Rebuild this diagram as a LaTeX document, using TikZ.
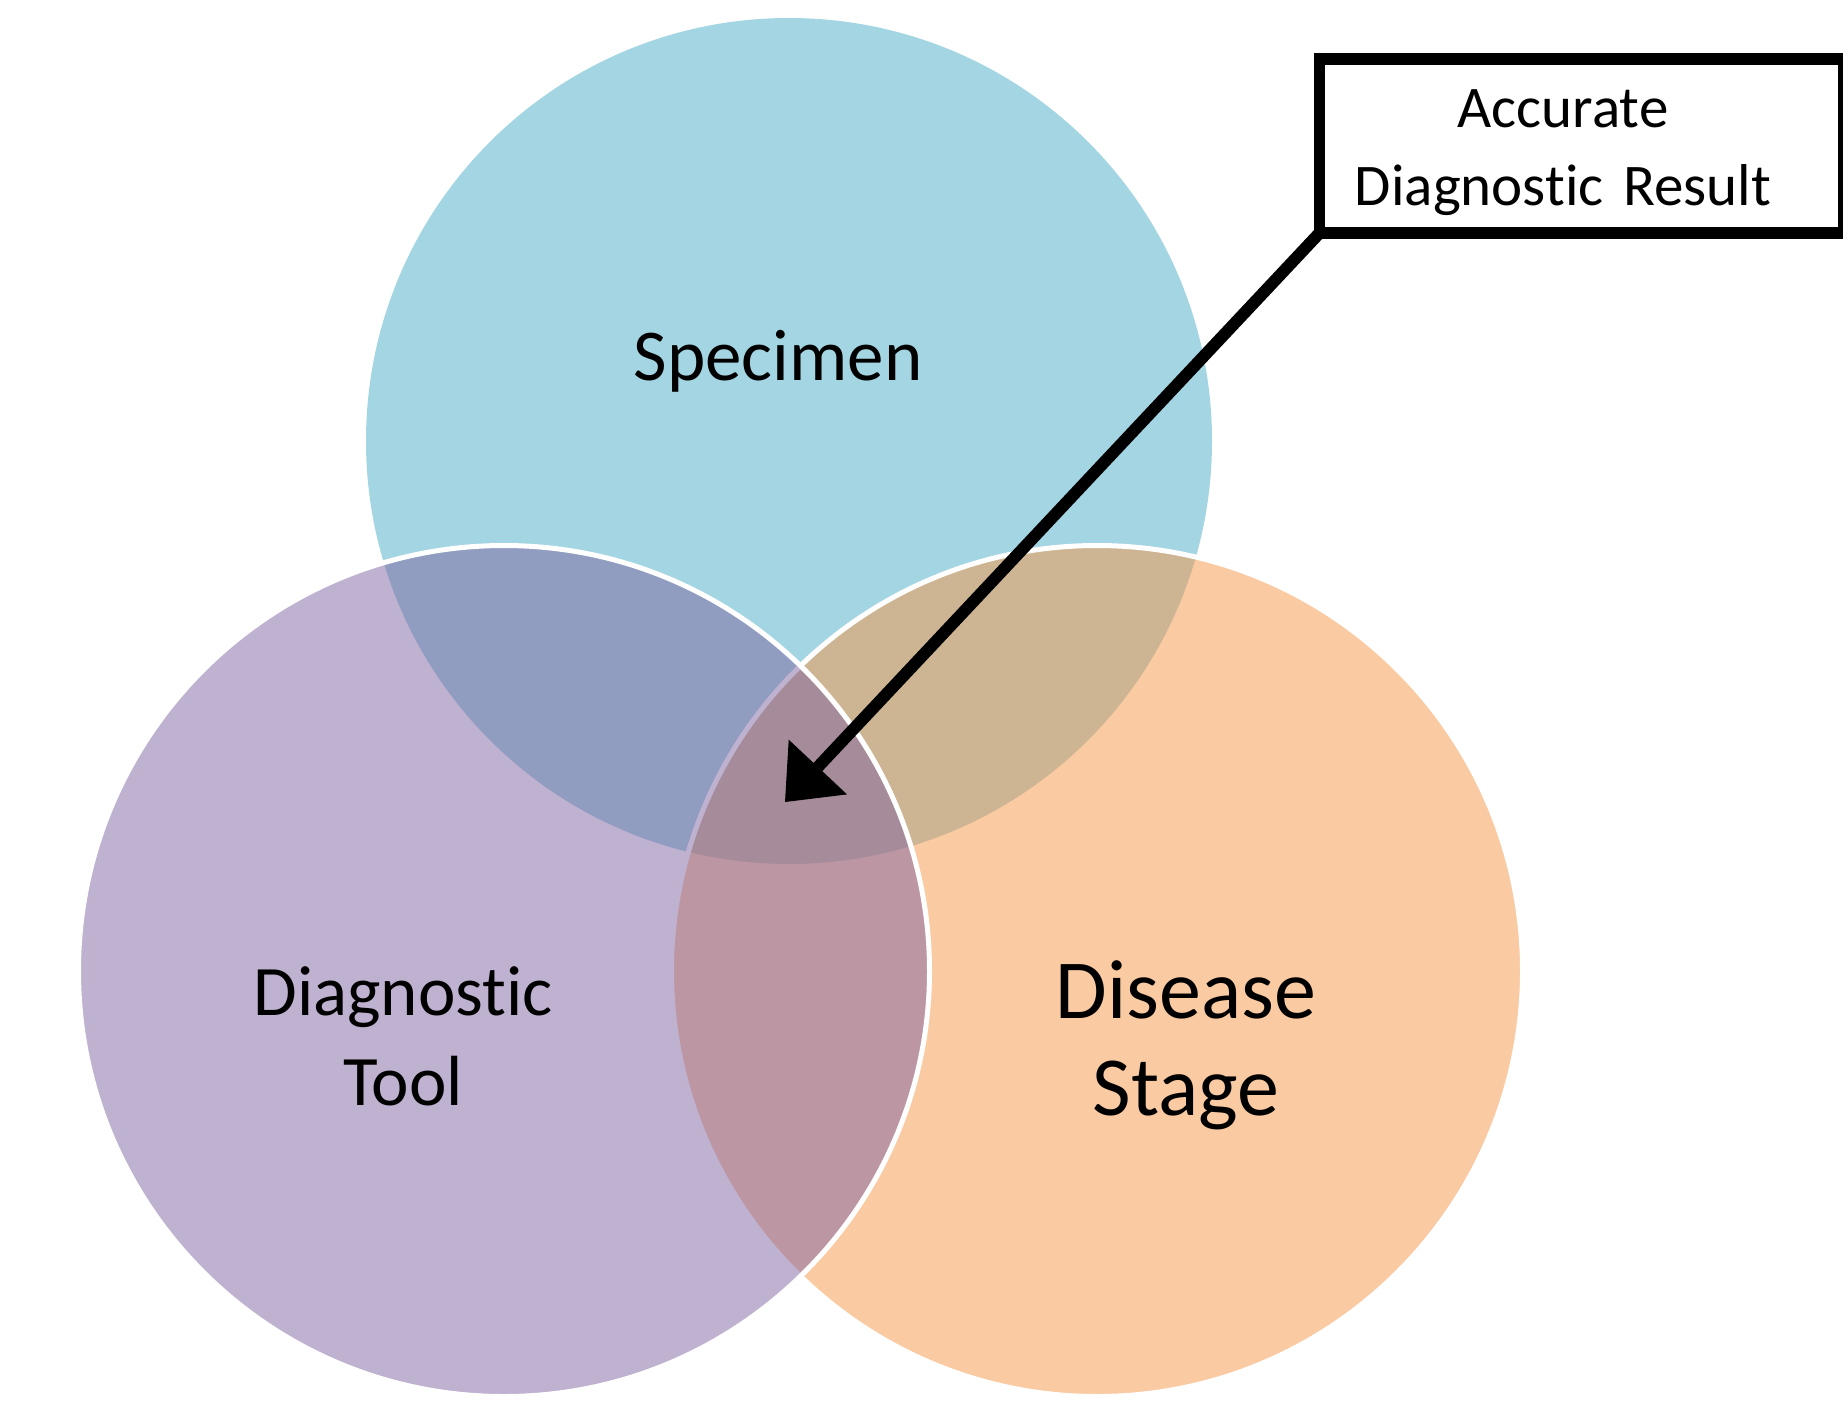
\documentclass[tikz,border=0pt]{standalone}
\usepackage{fontspec}
\setmainfont{Carlito}[Ligatures={NoCommon,NoRare,NoDiscretionary}]
\usetikzlibrary{arrows.meta}
\definecolor{vblue}{HTML}{4BACC6}
\definecolor{vpurple}{HTML}{8064A2}
\definecolor{vorange}{HTML}{F79646}
\begin{document}
\begin{tikzpicture}[x=1pt,y=-1pt,
  vennset/.style={fill opacity=0.5},
  vennrim/.style={draw=white, line width=5},
  lbl/.style={text=black, inner sep=0, outer sep=0, align=center, anchor=base},
  resbox/.style={draw=black, fill=white, line width=11.5, minimum width=524, minimum height=174, inner sep=0, outer sep=0},
  callout/.style={draw=black, line width=12, -{Triangle[length=48pt,width=80pt,line width=0pt]}}]
\clip (0,0) rectangle (1843,1413);
\fill[white] (0,0) rectangle (1843,1413);
% Venn sets
\path[vennset, fill=vblue] (789,441) circle[radius=423];
\path[vennset, fill=vorange, vennrim] (1097,971) circle[radius=425.5];
\path[vennset, fill=vpurple, vennrim] (504,971) circle[radius=425.5];
% labels
\node[lbl, font=\fontsize{73}{88}\selectfont] (spec) at (778,380) {Specimen};
\node[lbl, font=\fontsize{71}{90}\selectfont, text width=420] (tool) at (403,1015) {Diagnostic\\Tool};
\node[lbl, font=\fontsize{84}{97}\selectfont, text width=420] (stage) at (1186,1018) {Disease\\Stage};
% result box
\node[resbox] (box) at (1581.5,146) {};
\node[lbl, font=\fontsize{59}{78}\selectfont, text width=500] (res) at (1563,127) {Accurate\\Diagnostic Result};
% arrow
\coordinate (tip) at (785,802);
\draw[callout] (box.south west) -- (tip);
\end{tikzpicture}
\end{document}
